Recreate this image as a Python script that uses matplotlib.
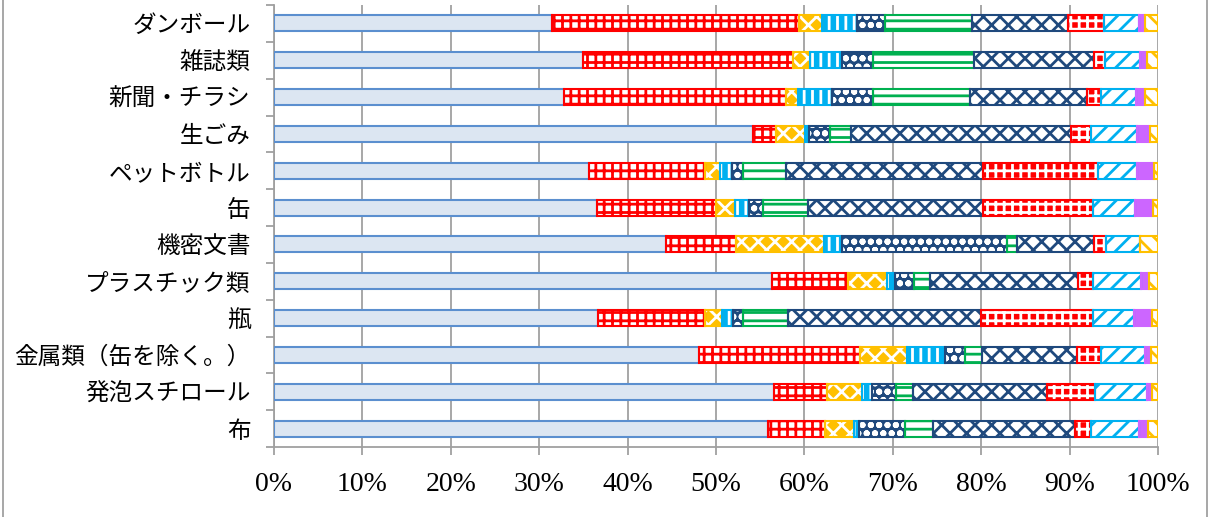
import numpy as np
import matplotlib
matplotlib.use("Agg")
import matplotlib.pyplot as plt
from matplotlib.lines import Line2D

plt.rcParams['font.family'] = ['Noto Sans CJK JP', 'DejaVu Sans']
plt.rcParams['hatch.linewidth'] = 2.0

categories = ["ダンボール", "雑誌類", "新聞・チラシ", "生ごみ", "ペットボトル", "缶",
              "機密文書", "プラスチック類", "瓶", "金属類（缶を除く。）", "発泡スチロール", "布"]

# composition shares per category (percent), top row first
light_blue = [31.4, 34.9, 32.8, 54.2, 35.6, 36.5, 44.4, 56.3, 36.7, 48.1, 56.6, 55.9]
red_grid = [28.0, 23.8, 25.1, 2.6, 13.1, 13.5, 7.9, 8.6, 12.1, 18.2, 5.9, 6.4]
yellow_diamond = [2.6, 1.9, 1.4, 3.3, 1.7, 2.1, 9.9, 4.5, 1.9, 5.3, 4.0, 3.3]
cyan_vertical = [4.0, 3.7, 3.8, 0.4, 1.4, 1.6, 2.1, 0.9, 1.2, 4.3, 1.1, 0.6]
navy_dots = [3.1, 3.5, 4.7, 2.4, 1.3, 1.6, 18.6, 2.1, 1.2, 2.3, 2.8, 5.2]
green_lines = [9.9, 11.4, 10.9, 2.4, 4.8, 5.1, 1.2, 1.8, 5.1, 1.9, 1.9, 3.1]
navy_wave = [10.8, 13.6, 13.3, 24.9, 22.3, 19.8, 8.7, 16.8, 21.8, 10.7, 15.1, 16.1]
red_check = [4.1, 1.2, 1.5, 2.2, 13.0, 12.5, 1.3, 1.6, 12.6, 2.8, 5.5, 1.8]
cyan_diag = [3.9, 4.0, 4.0, 5.2, 4.4, 4.7, 3.9, 5.5, 4.7, 4.9, 5.9, 5.5]
purple = [0.7, 0.8, 1.0, 1.5, 2.0, 2.0, 0.0, 0.9, 2.0, 0.7, 0.5, 1.0]
yellow_diag = [1.5, 1.2, 1.5, 0.9, 0.4, 0.6, 2.0, 1.0, 0.7, 0.8, 0.7, 1.1]

series = [light_blue, red_grid, yellow_diamond, cyan_vertical, navy_dots, green_lines,
          navy_wave, red_check, cyan_diag, purple, yellow_diag]

# (face, hatch, hatch colour, border)
styles = [
    ('#DCE6F2', None, '#DCE6F2', '#5B8FCF'),
    ('white', '++', '#FF0000', '#FF0000'),
    ('#FFC000', 'xx', 'white', '#FFC000'),
    ('#00B0F0', '||', 'white', '#00B0F0'),
    ('#1F497D', 'oo', 'white', '#1F497D'),
    ('white', '--', '#00B050', '#00B050'),
    ('white', 'xx', '#1F497D', '#1F497D'),
    ('#FF0000', '++', 'white', '#FF0000'),
    ('white', '//', '#00B0F0', '#00B0F0'),
    ('#CC66FF', None, '#CC66FF', '#CC66FF'),
    ('white', '\\\\', '#FFC000', '#FFC000'),
]

data = np.array(series, dtype=float)
data = data / data.sum(axis=0) * 100
y = np.arange(len(categories))

fig = plt.figure(figsize=(12.11, 5.17), dpi=100)
ax = fig.add_axes([274 / 1211, 70 / 517, 884 / 1211, 442 / 517])

left = np.zeros(len(categories))
for vals, (face, hatch, hcol, edge) in zip(data, styles):
    ax.barh(y, vals, left=left, height=0.43, color=face, hatch=hatch,
            edgecolor=hcol, linewidth=0, zorder=2)
    ax.barh(y, vals, left=left, height=0.43, fill=False, edgecolor=edge,
            linewidth=1.5, zorder=3)
    left += vals

ax.set_xlim(0, 100)
ax.set_ylim(len(categories) - 0.5, -0.5)
ax.set_xticks(np.arange(0, 101, 10))
ax.set_xticklabels([f"{v}%" for v in range(0, 101, 10)],
                   family=['Liberation Serif'], fontsize=20)
ax.set_yticks(y)
ax.set_yticklabels(categories, fontsize=17)
ax.set_yticks(np.arange(-0.5, len(categories), 1), minor=True)

grey = '#A0A0A0'
ax.grid(axis='x', color=grey, linewidth=1.3, zorder=0)
ax.set_axisbelow(True)
for s in ['top', 'right']:
    ax.spines[s].set_visible(False)
for s in ['left', 'bottom']:
    ax.spines[s].set_color(grey)
    ax.spines[s].set_linewidth(1.3)

ax.tick_params(axis='y', which='major', length=0, pad=17)
ax.tick_params(axis='y', which='minor', length=6, color=grey, width=1.3)
ax.tick_params(axis='x', length=6, color=grey, width=1.3, pad=12)

# outer chart frame
fig.add_artist(Line2D([3 / 1211, 3 / 1211], [0, 1], color=grey, linewidth=1.3))
fig.add_artist(Line2D([1207 / 1211, 1207 / 1211], [0, 1], color=grey, linewidth=1.3))

fig.savefig("out.png", dpi=100, facecolor='white')
